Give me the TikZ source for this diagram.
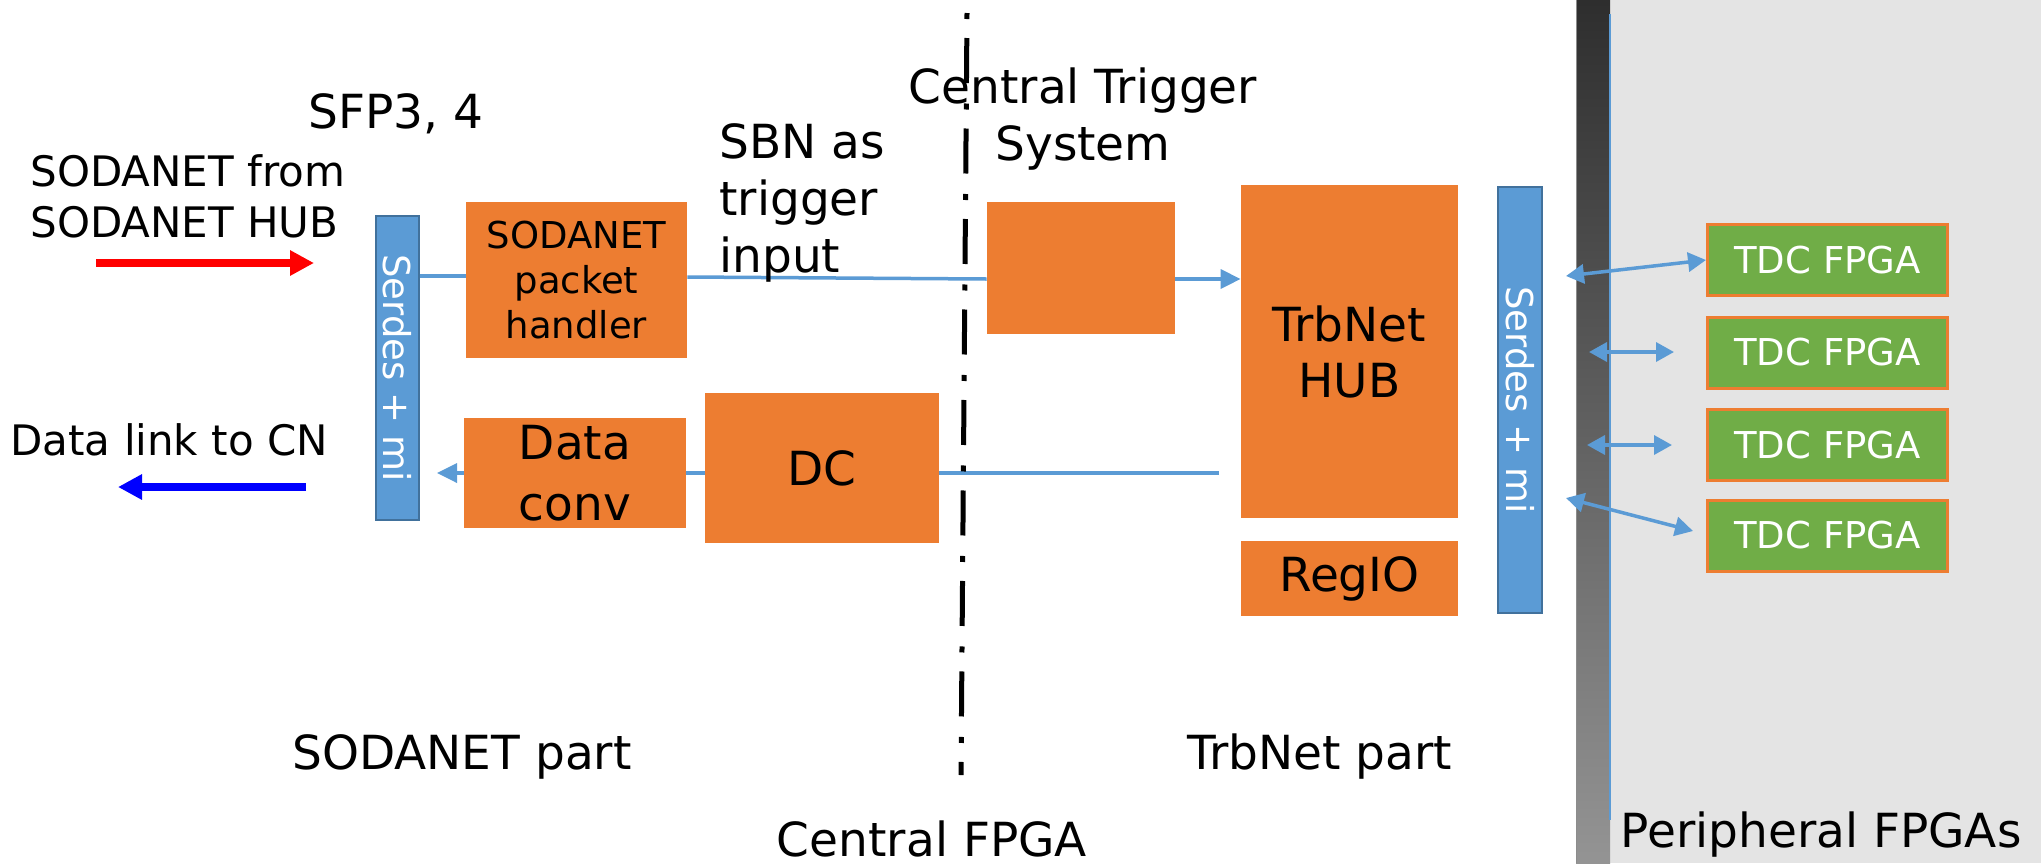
\documentclass[tikz,border=0pt]{standalone}
\usepackage{fontspec}
\setmainfont{DejaVu Sans}
\usepackage{graphicx}
\usetikzlibrary{arrows.meta}
\definecolor{orangeA}{HTML}{ED7D31}
\definecolor{blueA}{HTML}{5B9BD5}
\definecolor{blueB}{HTML}{41719C}
\definecolor{greenA}{HTML}{70AD47}
\definecolor{panel}{HTML}{E4E4E4}
\newcommand\szA{\fontsize{21}{25.5}\selectfont}
\newcommand\szB{\fontsize{23.5}{28.5}\selectfont}
\newcommand\szC{\fontsize{18.5}{22.5}\selectfont}
\begin{document}
\begin{tikzpicture}[x=0.5pt,y=-0.5pt,
  obox/.style={fill=orangeA, draw=none, inner sep=0pt, align=center, text=black},
  serdes/.style={fill=blueA, draw=blueB, line width=1.2pt, inner sep=0pt, text=white, font=\szC},
  tdc/.style={fill=greenA, draw=orangeA, line width=1.5pt, minimum width=120pt, minimum height=35.5pt, inner sep=0pt, text=white, font=\szC},
  conn/.style={draw=blueA, line width=1.75pt},
  tip/.style={-{Triangle[length=10pt,width=9.5pt]}},
  both/.style={{Triangle[length=9pt,width=9.5pt]}-{Triangle[length=9pt,width=9.5pt]}},
  lbl/.style={inner sep=0pt, font=\szB},
  bigarrow/.style={line width=4.2pt, -{Triangle[length=12pt,width=12pt]}}
]
\useasboundingbox (0,0) rectangle (2041,863);
\fill[white] (0,0) rectangle (2041,863);

% peripheral area and separator bar
\fill[panel] (1610,0) rectangle (2041,863);
\shade[top color=black!82, bottom color=black!42] (1576,0) rectangle (1610,863);
\draw[black!45, line width=0.5pt] (1576.3,0) -- (1576.3,863);
\draw[blueA, line width=0.8pt] (1610,14) -- (1610,820);

% serdes blocks
\node[serdes, minimum width=21.3pt, minimum height=151.8pt] (serL) at (397.5,368) {\rotatebox{-90}{Serdes + mi}};
\node[serdes, minimum width=21.8pt, minimum height=212.8pt] (serR) at (1520,400) {\rotatebox{-90}{Serdes + mi}};

% central FPGA blocks
\node[obox, minimum width=110.5pt, minimum height=78pt, font=\fontsize{18.5}{22.5}\selectfont] (sph) at (576.5,280) {SODANET\\packet\\handler};
\node[obox, minimum width=111pt, minimum height=55pt, font=\fontsize{23.5}{30.5}\selectfont] (dconv) at (575,473) {Data\\conv};
\node[obox, minimum width=117pt, minimum height=75pt, font=\szB] (dc) at (822,468) {DC};
\node[obox, minimum width=94pt, minimum height=66pt] (cts) at (1081,268) {};
\node[obox, minimum width=108.5pt, minimum height=166.5pt, font=\fontsize{23.5}{28}\selectfont] (hub) at (1349.5,351.5) {TrbNet\\HUB};
\node[obox, minimum width=108.5pt, minimum height=37.5pt, font=\szB] (regio) at (1349.5,578.5) {RegIO};

% peripheral TDC FPGAs
\node[tdc] (tdc1) at (1827.5,260) {TDC FPGA};
\node[tdc] (tdc2) at (1827.5,352.5) {TDC FPGA};
\node[tdc] (tdc3) at (1827.5,445) {TDC FPGA};
\node[tdc] (tdc4) at (1827.5,535.5) {TDC FPGA};

% data paths inside the central FPGA
\draw[conn] (serL.east |- 0,276) -- (sph.west |- 0,276);
\draw[conn] (sph.east |- 0,277) -- (cts.west |- 0,279);
\draw[conn, tip] (cts.east |- 0,279) -- (hub.west |- 0,279);
\coordinate (hubin) at (1219,473);
\draw[conn] (hubin) -- (dc.east |- hubin);
\draw[conn] (dc.west |- 0,473) -- (dconv.east |- 0,473);
\coordinate (serin) at (437,473);
\draw[conn, tip] (dconv.west |- serin) -- (serin);

% links to peripheral FPGAs
\coordinate (l1) at (1566,276);
\coordinate (l2a) at (1589,352);
\coordinate (l2b) at (1674,352);
\coordinate (l3a) at (1587,445);
\coordinate (l3b) at (1672,445);
\coordinate (l4a) at (1566,498);
\coordinate (l4b) at (1693,531);
\draw[conn, both] (l1) -- (tdc1.west);
\draw[conn, both] (l2a) -- (l2b);
\draw[conn, both] (l3a) -- (l3b);
\draw[conn, both] (l4a) -- (l4b);

% external links
\coordinate (rin0) at (96,263);
\coordinate (rin1) at (314,263);
\draw[red, bigarrow] (rin0) -- (rin1);
\coordinate (bout0) at (306,487);
\coordinate (bout1) at (118,487);
\draw[blue, bigarrow] (bout0) -- (bout1);

% labels
\node[inner sep=0pt, font=\szA, align=left, anchor=west] (tfrom) at (30,196) {SODANET from\\SODANET HUB};
\node[inner sep=0pt, font=\szA, anchor=west] (tcn) at (10,440) {Data link to CN};
\node[lbl] (tsfp) at (396,114) {SFP3, 4};
\node[lbl, align=left, anchor=west] (tsbn) at (719,203) {SBN as\\trigger\\input};
\node[lbl, align=center] (tcts) at (1083,119) {Central Trigger\\System};
\node[lbl] (tsod) at (462,757) {SODANET part};
\node[lbl] (ttrb) at (1320,757) {TrbNet part};
\node[lbl] (tcen) at (932,839) {Central FPGA};
\node[lbl] (tper) at (1821,835) {Peripheral FPGAs};

% boundary between SODANET and TrbNet parts
\coordinate (sepTop) at (967,13);
\coordinate (sepBot) at (961,775);
\draw[black, line width=2.5pt, dash pattern=on 3pt off 9.5pt on 22.5pt off 10.25pt] (sepTop) -- (sepBot);
\end{tikzpicture}
\end{document}
